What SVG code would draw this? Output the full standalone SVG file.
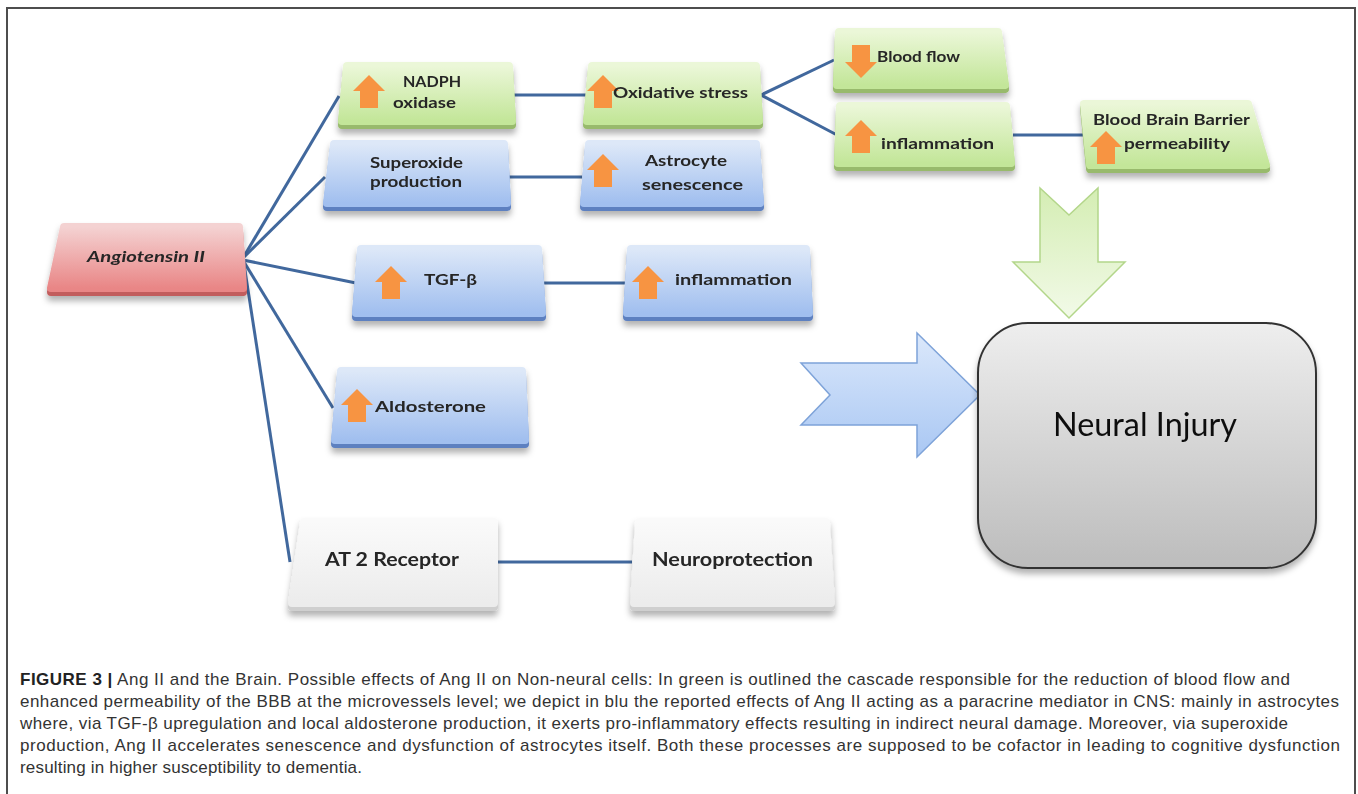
<svg xmlns="http://www.w3.org/2000/svg" width="1358" height="794" viewBox="0 0 1358 794">
<defs>
<linearGradient id="gGreen" x1="0" y1="0" x2="0" y2="1"><stop offset="0" stop-color="#ebf7d8"/><stop offset="1" stop-color="#c3e699"/></linearGradient>
<linearGradient id="gBlue" x1="0" y1="0" x2="0" y2="1"><stop offset="0" stop-color="#dde8f8"/><stop offset="1" stop-color="#a1bfef"/></linearGradient>
<linearGradient id="gRed" x1="0" y1="0" x2="0" y2="1"><stop offset="0" stop-color="#f4d2d2"/><stop offset="1" stop-color="#e98686"/></linearGradient>
<linearGradient id="gWhite" x1="0" y1="0" x2="0" y2="1"><stop offset="0" stop-color="#fafafa"/><stop offset="1" stop-color="#ececec"/></linearGradient>
<linearGradient id="gGray" x1="0" y1="0" x2="0" y2="1"><stop offset="0" stop-color="#eeeeee"/><stop offset="1" stop-color="#bcbcbc"/></linearGradient>
<linearGradient id="gArrG" x1="0" y1="0" x2="0" y2="1"><stop offset="0" stop-color="#d4edb3"/><stop offset="1" stop-color="#f2fae8"/></linearGradient>
<linearGradient id="gArrB" x1="0" y1="0" x2="0" y2="1"><stop offset="0" stop-color="#dbe8fb"/><stop offset="1" stop-color="#a9c7f3"/></linearGradient>
<filter id="sh" x="-10%" y="-20%" width="120%" height="150%"><feDropShadow dx="0" dy="5" stdDeviation="3" flood-color="#000" flood-opacity="0.3"/></filter>
<path id="up" d="M0,0 L16,16 L9,16 L9,33 L-9,33 L-9,16 L-16,16 Z"/>
<style>
.face{stroke-width:8;stroke-linejoin:round}
.fg{fill:url(#gGreen);stroke:url(#gGreen)}
.fb{fill:url(#gBlue);stroke:url(#gBlue)}
.fr{fill:url(#gRed);stroke:url(#gRed)}
.fw{fill:url(#gWhite);stroke:url(#gWhite)}
.bev{stroke-width:8;stroke-linejoin:round}
.bg{fill:#98ba6c;stroke:#98ba6c}
.bb{fill:#5d80c0;stroke:#5d80c0}
.br{fill:#c25d5d;stroke:#c25d5d}
.bw{fill:#cfcfcf;stroke:#cfcfcf}
.oa{fill:#f79442}
.t{font-family:Lato,"Liberation Sans",sans-serif;font-weight:700;font-size:15px;fill:#262626}
.conn line{stroke:#41689d;stroke-width:3}
.cap{font-family:"Liberation Sans",Arial,sans-serif;font-size:17px;fill:#333}
</style>
</defs>
<rect x="0" y="0" width="1358" height="794" fill="#fff"/>
<path d="M7,800 V8 H1355 V800" fill="none" stroke="#4d4d4d" stroke-width="2"/>

<g id="connectors" class="conn">
<line x1="243" y1="258" x2="339" y2="96"/>
<line x1="243" y1="258" x2="325" y2="177"/>
<line x1="243" y1="260" x2="356" y2="283"/>
<line x1="244" y1="262" x2="333" y2="408"/>
<line x1="244" y1="264" x2="290" y2="562"/>
<line x1="514" y1="95" x2="586" y2="95"/>
<line x1="509" y1="177" x2="582" y2="177"/>
<line x1="544" y1="283" x2="625" y2="283"/>
<line x1="761" y1="95" x2="834" y2="60"/>
<line x1="761" y1="95" x2="837" y2="135"/>
<line x1="1013" y1="135" x2="1084" y2="135"/>
<line x1="497" y1="562" x2="632" y2="562"/>
</g>

<g id="n-angiotensin" filter="url(#sh)">
<polygon class="bev br" points="64,231 239,231 243,292 51,292"/>
<polygon class="face fr" points="64,227 239,227 243,288 51,288"/>
<text class="t" x="87" y="262" font-style="italic" textLength="118" lengthAdjust="spacingAndGlyphs">Angiotensin II</text>
</g>

<g id="n-nadph" filter="url(#sh)">
<polygon class="bev bg" points="347,70 509,70 512,125 342,125"/>
<polygon class="face fg" points="347,66 509,66 512,121 342,121"/>
<use href="#up" class="oa" x="369" y="75"/>
<text class="t" x="403" y="87" textLength="58" lengthAdjust="spacingAndGlyphs">NADPH</text>
<text class="t" x="393" y="108" textLength="63" lengthAdjust="spacingAndGlyphs">oxidase</text>
</g>

<g id="n-oxidative" filter="url(#sh)">
<polygon class="bev bg" points="592,70 756,70 759,125 587,125"/>
<polygon class="face fg" points="592,66 756,66 759,121 587,121"/>
<use href="#up" class="oa" x="603" y="75"/>
<text class="t" x="613" y="98" textLength="135" lengthAdjust="spacingAndGlyphs">Oxidative stress</text>
</g>

<g id="n-superoxide" filter="url(#sh)">
<polygon class="bev bb" points="334,148 504,148 507,207 327,207"/>
<polygon class="face fb" points="334,144 504,144 507,203 327,203"/>
<text class="t" x="370" y="168" textLength="93" lengthAdjust="spacingAndGlyphs">Superoxide</text>
<text class="t" x="370" y="187" textLength="92" lengthAdjust="spacingAndGlyphs">production</text>
</g>

<g id="n-astrocyte" filter="url(#sh)">
<polygon class="bev bb" points="589,148 756,148 760,207 584,207"/>
<polygon class="face fb" points="589,144 756,144 760,203 584,203"/>
<use href="#up" class="oa" x="603" y="154"/>
<text class="t" x="645" y="166" textLength="82" lengthAdjust="spacingAndGlyphs">Astrocyte</text>
<text class="t" x="642" y="190" textLength="101" lengthAdjust="spacingAndGlyphs">senescence</text>
</g>

<g id="n-tgfb" filter="url(#sh)">
<polygon class="bev bb" points="361,253 538,253 542,317 356,317"/>
<polygon class="face fb" points="361,249 538,249 542,313 356,313"/>
<use href="#up" class="oa" x="391" y="266"/>
<text class="t" x="424" y="285" textLength="53" lengthAdjust="spacingAndGlyphs">TGF-β</text>
</g>

<g id="n-inflam-blue" filter="url(#sh)">
<polygon class="bev bb" points="631,253 806,253 809,317 627,317"/>
<polygon class="face fb" points="631,249 806,249 809,313 627,313"/>
<use href="#up" class="oa" x="648" y="266"/>
<text class="t" x="675" y="285" textLength="117" lengthAdjust="spacingAndGlyphs">inflammation</text>
</g>

<g id="n-bloodflow" filter="url(#sh)">
<polygon class="bev bg" points="839,36 998,36 1005,89 837,89"/>
<polygon class="face fg" points="839,32 998,32 1005,85 837,85"/>
<use href="#up" class="oa" transform="translate(861,78) scale(1,-1)"/>
<text class="t" x="877" y="62" textLength="83" lengthAdjust="spacingAndGlyphs">Blood flow</text>
</g>

<g id="n-inflam-green" filter="url(#sh)">
<polygon class="bev bg" points="840,110 1006,110 1011,167 838,167"/>
<polygon class="face fg" points="840,106 1006,106 1011,163 838,163"/>
<use href="#up" class="oa" x="861" y="120"/>
<text class="t" x="881" y="149" textLength="113" lengthAdjust="spacingAndGlyphs">inflammation</text>
</g>

<g id="n-bbb" filter="url(#sh)">
<polygon class="bev bg" points="1084,108 1248,108 1266,169 1090,169"/>
<polygon class="face fg" points="1084,104 1248,104 1266,165 1090,165"/>
<use href="#up" class="oa" x="1106" y="131"/>
<text class="t" x="1093" y="125" textLength="157" lengthAdjust="spacingAndGlyphs">Blood Brain Barrier</text>
<text class="t" x="1124" y="149" textLength="106" lengthAdjust="spacingAndGlyphs">permeability</text>
</g>

<g id="n-aldosterone" filter="url(#sh)">
<polygon class="bev bb" points="341,375 522,375 525,444 335,444"/>
<polygon class="face fb" points="341,371 522,371 525,440 335,440"/>
<use href="#up" class="oa" x="357" y="389"/>
<text class="t" x="375" y="412" font-size="16" textLength="111" lengthAdjust="spacingAndGlyphs">Aldosterone</text>
</g>

<g id="n-at2" filter="url(#sh)">
<polygon class="bev bw" points="304,526 494,526 494,607 292,607"/>
<polygon class="face fw" points="304,522 494,522 494,603 292,603"/>
<text class="t" x="325" y="566" style="font-size:19px" textLength="134" lengthAdjust="spacingAndGlyphs">AT 2 Receptor</text>
</g>

<g id="n-neuroprotection" filter="url(#sh)">
<polygon class="bev bw" points="639,526 826,526 831,607 634,607"/>
<polygon class="face fw" points="639,522 826,522 831,603 634,603"/>
<text class="t" x="652" y="566" style="font-size:19px" textLength="161" lengthAdjust="spacingAndGlyphs">Neuroprotection</text>
</g>

<g id="arrow-green">
<polygon points="1040,188 1069,215 1098,188 1098,262 1125,262 1069,318 1013,262 1040,262" fill="url(#gArrG)" stroke="#b3d68a" stroke-width="1.5"/>
</g>

<g id="arrow-blue">
<polygon points="801,363 917,363 917,333 980,395 917,457 917,425 801,425 830,395" fill="url(#gArrB)" stroke="#7ea3d9" stroke-width="1.5"/>
</g>

<g id="n-neural" filter="url(#sh)">
<rect x="978" y="323" width="338" height="245" rx="50" ry="50" fill="url(#gGray)" stroke="#333" stroke-width="2"/>
<text x="1053" y="436" font-family="Lato,'Liberation Sans',sans-serif" font-size="32" fill="#111" textLength="184" lengthAdjust="spacingAndGlyphs">Neural Injury</text>
</g>

<g id="caption" class="cap">
<text x="20" y="685" textLength="1270" lengthAdjust="spacing"><tspan font-weight="700" fill="#222">FIGURE 3 |</tspan> Ang II and the Brain. Possible effects of Ang II on Non-neural cells: In green is outlined the cascade responsible for the reduction of blood flow and</text>
<text x="20" y="707" textLength="1319" lengthAdjust="spacing">enhanced permeability of the BBB at the microvessels level; we depict in blu the reported effects of Ang II acting as a paracrine mediator in CNS: mainly in astrocytes</text>
<text x="20" y="729" textLength="1268" lengthAdjust="spacing">where, via TGF-β upregulation and local aldosterone production, it exerts pro-inflammatory effects resulting in indirect neural damage. Moreover, via superoxide</text>
<text x="20" y="751" textLength="1320" lengthAdjust="spacing">production, Ang II accelerates senescence and dysfunction of astrocytes itself. Both these processes are supposed to be cofactor in leading to cognitive dysfunction</text>
<text x="20" y="773" textLength="342" lengthAdjust="spacing">resulting in higher susceptibility to dementia.</text>
</g>
</svg>
